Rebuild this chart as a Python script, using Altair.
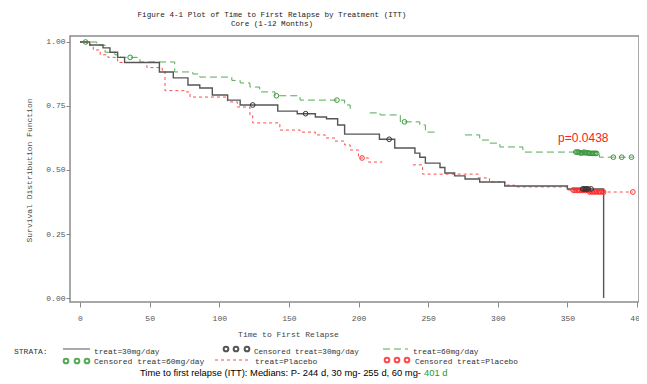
import altair as alt
import pandas as pd

# ---------------- data ----------------
# treat=30mg/day  (solid dark line)
b_t = [0, 7, 16.5, 21.5, 27, 32, 57, 67, 77.5, 86, 95, 106, 115, 142, 156, 169, 177, 185, 190,
       215, 226, 240.5, 244, 248, 258.5, 262, 269, 276.5, 287, 305, 350, 376]
b_s = [1.0, 0.988, 0.977, 0.96, 0.94, 0.92, 0.883, 0.86, 0.832, 0.82, 0.793, 0.773, 0.754, 0.73,
       0.72, 0.707, 0.70, 0.676, 0.64, 0.62, 0.586, 0.566, 0.55, 0.527, 0.51, 0.488, 0.477, 0.465,
       0.453, 0.4375, 0.426, 0.0]
b_seg = [1] * len(b_t)

# treat=Placebo (red short dashes) - drawn with a visible break
r_t = [0, 5, 9.5, 14.5, 20, 27, 48, 59, 61, 75.5, 79, 106, 113, 122, 124, 143.5, 158, 169, 176,
       183, 190, 194, 200, 207, 217,
       239, 246, 286, 294, 305, 312, 350, 366, 397]
r_s = [1.0, 0.988, 0.969, 0.95, 0.94, 0.92, 0.90, 0.89, 0.81, 0.805, 0.785, 0.766, 0.746, 0.715,
       0.684, 0.656, 0.648, 0.637, 0.625, 0.613, 0.598, 0.578, 0.547, 0.531, 0.531,
       0.52, 0.484, 0.469, 0.453, 0.441, 0.434, 0.422, 0.414, 0.414]
r_seg = [1] * 25 + [2] * 9

# treat=60mg/day (green long dashes) - drawn with two breaks
g_t = [0, 12, 18, 25, 29, 43, 68, 81, 86, 109, 115, 122, 129, 140, 158, 190, 194, 195.5,
       208, 215.5, 230, 244, 248, 256,
       276.5, 287, 294, 301.5, 318, 373, 397]
g_s = [1.0, 0.988, 0.96, 0.95, 0.94, 0.922, 0.883, 0.875, 0.863, 0.85, 0.84, 0.824, 0.805, 0.79,
       0.773, 0.754, 0.734, 0.734,
       0.723, 0.715, 0.688, 0.676, 0.648, 0.648,
       0.637, 0.617, 0.605, 0.59, 0.57, 0.55, 0.55]
g_seg = [1] * 18 + [2] * 6 + [3] * 7

# censored observations
bc_t = [124, 162, 222, 361, 362, 363, 364, 365, 367]
bc_s = [0.754, 0.72, 0.62, 0.426, 0.426, 0.426, 0.426, 0.426, 0.426]
gc_t = [4, 36, 141, 184.5, 233,
        356, 357, 358, 359, 360, 361, 362, 363, 364, 365, 366, 367, 368, 369, 370, 371,
        383, 389, 396]
gc_s = [1.0, 0.94, 0.79, 0.773, 0.688,
        0.57, 0.57, 0.57, 0.567, 0.567, 0.567, 0.57, 0.567, 0.567, 0.567, 0.565, 0.565,
        0.565, 0.565, 0.565, 0.565,
        0.55, 0.55, 0.55]
rc_t = [202.5, 354, 355, 356, 357, 358, 359, 360, 361, 362, 363, 364, 365,
        366, 367, 368, 369, 370, 371, 372, 373, 374, 375, 376, 397]
rc_s = [0.547, 0.422, 0.42, 0.422, 0.42, 0.422, 0.42, 0.422, 0.42, 0.422, 0.42, 0.422, 0.42,
        0.414, 0.416, 0.414, 0.416, 0.414, 0.416, 0.414, 0.416, 0.414, 0.416, 0.414, 0.414]

x_ticks = [0, 50, 100, 150, 200, 250, 300, 350, 400]
y_ticks = [0.0, 0.25, 0.5, 0.75, 1.0]
p_label = "p=0.0438"
p_pos = (343.3, 0.625)

title_lines = ["Figure 4-1 Plot of Time to First Relapse by Treatment (ITT)", "Core (1-12 Months)"]
footer_main = "Time to first relapse (ITT): Medians: P- 244 d, 30 mg- 255 d, 60 mg-"
footer_green = "401 d"

# ---------------- styles ----------------
C_BLACK = "#555555"
C_RED = "#ff4a4a"
C_GREEN = "#55aa55"
MONO = "Liberation Mono"
SANS = "Liberation Sans"

xenc = alt.X("t:Q",
             scale=alt.Scale(domain=[-7.2, 401.4], nice=False, zero=False),
             axis=alt.Axis(values=x_ticks, format="d", title="Time to First Relapse",
                           tickSize=5, labelPadding=7, titleX=218, titleY=32,
                           titleAlign="center", titleBaseline="middle"))
yenc = alt.Y("s:Q",
             scale=alt.Scale(domain=[-0.0156, 1.0234], nice=False, zero=False),
             axis=alt.Axis(values=y_ticks, format=".2f", title="Survival Distribution Function",
                           tickSize=4, labelPadding=1, titleX=-41, titleY=134,
                           titleAlign="center", titleBaseline="middle", titleAngle=270))


def curve(t, s, seg, color, dash, width):
    df = pd.DataFrame({"t": t, "s": s, "seg": seg})
    return alt.Chart(df).mark_line(interpolate="step-after", color=color, strokeDash=dash,
                                   strokeWidth=width).encode(x=xenc, y=yenc, detail="seg:N")


def cens(t, s, color):
    df = pd.DataFrame({"t": t, "s": s})
    return alt.Chart(df).mark_point(shape="circle", filled=False, size=22, color=color,
                                    strokeWidth=1, opacity=1).encode(x=xenc, y=yenc)


one = pd.DataFrame({"a": [0]})


def txt(s, x, y, size=8.0, color="#333333", align="left", font=MONO, weight="normal"):
    return alt.Chart(one).mark_text(text=s, align=align, baseline="middle", font=font,
                                    fontSize=size, color=color, fontWeight=weight).encode(
        x=alt.value(x), y=alt.value(y))


def sample_line(x1, x2, y, color, dash, width=1.0):
    return alt.Chart(one).mark_rule(color=color, strokeDash=dash, strokeWidth=width).encode(
        x=alt.value(x1), x2=alt.value(x2), y=alt.value(y))


def sample_pt(x, y, color):
    return alt.Chart(one).mark_point(shape="circle", filled=False, size=22, color=color,
                                     opacity=1).encode(x=alt.value(x), y=alt.value(y))


layers = [
    curve(g_t, g_s, g_seg, C_GREEN, [7, 4], 1.0),
    curve(r_t, r_s, r_seg, C_RED, [3, 3], 1.0),
    curve(b_t, b_s, b_seg, C_BLACK, [1, 0], 1.4),
    cens(gc_t, gc_s, "#3c963c"),
    cens(rc_t, rc_s, "#ff3030"),
    cens(bc_t, bc_s, "#333333"),
    alt.Chart(pd.DataFrame({"t": [p_pos[0]], "s": [p_pos[1]], "label": [p_label]})).mark_text(
        align="left", baseline="middle", font=SANS, fontSize=12, color="#ff2020"
    ).encode(x=xenc, y=yenc, text="label:N"),
    # titles
    txt(title_lines[0], 202, -21, size=7.6, color="#222222", align="center"),
    txt(title_lines[1], 202, -12, size=7.6, color="#222222", align="center"),
    # legend
    txt("STRATA:", -56, 316, size=8),
    sample_line(-7, 20, 313, C_BLACK, [1, 0], 1.2),
    txt("treat=30mg/day", 24, 316, size=7.8),
    sample_pt(156, 313, "#555555"), sample_pt(166, 313, "#555555"), sample_pt(177, 313, "#555555"),
    txt("Censored treat=30mg/day", 184, 316, size=7.6),
    sample_line(313, 338, 313, C_GREEN, [7, 4]),
    txt("treat=60mg/day", 343, 316, size=7.8),
    sample_pt(-4, 325, C_GREEN), sample_pt(7, 325, C_GREEN), sample_pt(17, 325, C_GREEN),
    txt("Censored treat=60mg/day", 24, 326, size=8),
    sample_line(145, 178, 324, C_RED, [3, 3]),
    txt("treat=Placebo", 185, 326, size=8),
    sample_pt(317, 324, C_RED), sample_pt(327, 324, C_RED), sample_pt(337, 324, C_RED),
    txt("Censored treat=Placebo", 345, 326, size=7.8),
    # footer
    txt(footer_main, 351, 337, size=9.4, color="#000000", align="right", font=SANS),
    txt(footer_green, 354, 337, size=9.4, color="#2a9a2a", align="left", font=SANS),
]

chart = alt.layer(*layers).properties(
    width=569, height=266,
    autosize=alt.AutoSizeParams(type="none"),
    padding={"left": 62, "top": 28, "right": 0, "bottom": 80},
).configure_view(
    stroke="#8c8c8c", strokeWidth=1.5
).configure_axis(
    domain=False, grid=False,
    labelFont=MONO, labelFontSize=8, labelColor="#555555",
    tickColor="#888888", tickWidth=1,
    titleFont=MONO, titleFontSize=8, titleFontWeight="normal", titleColor="#444444",
)

chart.save("out.html", embed_options={"renderer": "svg", "actions": False})
